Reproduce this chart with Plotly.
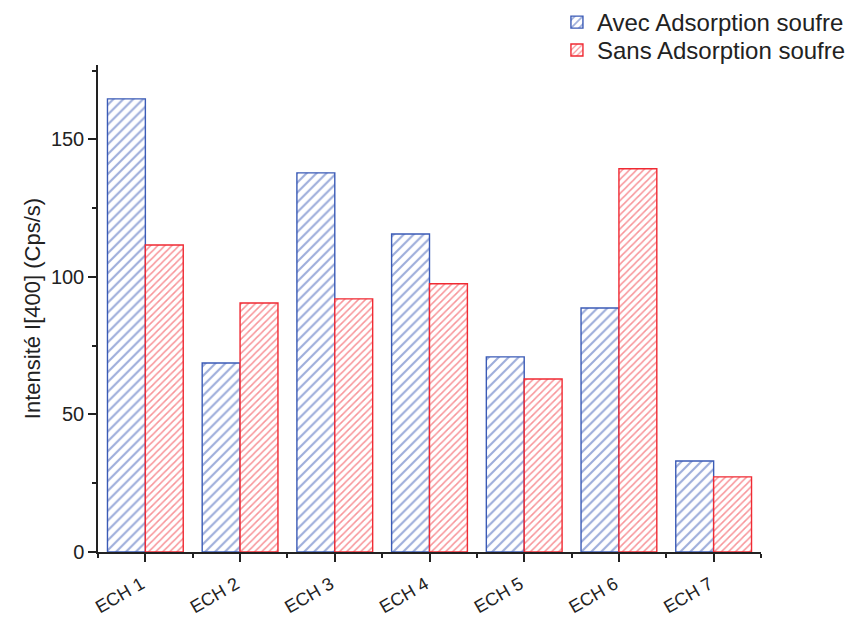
import plotly.graph_objects as go

categories = ["ECH 1", "ECH 2", "ECH 3", "ECH 4", "ECH 5", "ECH 6", "ECH 7"]
avec_adsorption = [164.7, 68.7, 137.8, 115.6, 70.9, 88.7, 33.1]
sans_adsorption = [111.6, 90.5, 92.0, 97.5, 62.9, 139.3, 27.3]

series_names = ["Avec Adsorption soufre", "Sans Adsorption soufre"]
series_colors = ["#3b5bb6", "#f02a33"]
hatch_sizes = [7, 5]
legend_ids = ["legend", "legend2"]

positions = list(range(len(categories)))

fig = go.Figure()
for name, values, color, hsize, lg in zip(series_names, [avec_adsorption, sans_adsorption],
                                          series_colors, hatch_sizes, legend_ids):
    fig.add_trace(go.Bar(
        x=positions,
        y=values,
        name=name,
        legend=lg,
        marker=dict(
            color="white",
            line=dict(color=color, width=1.4),
            pattern=dict(shape="/", fgcolor=color, bgcolor="white",
                         size=hsize, solidity=0.3, fillmode="overlay"),
        ),
    ))

font_family = "Liberation Sans, Arial, sans-serif"
ink = "#222222"


def legend_box(y_top):
    return dict(
        xref="container", yref="container",
        x=0.656, y=y_top, xanchor="left", yanchor="top",
        font=dict(size=24, family=font_family, color=ink),
        bgcolor="rgba(0,0,0,0)",
        itemwidth=30,
    )


fig.update_layout(
    width=849, height=619,
    margin=dict(l=98, r=88, t=65, b=67, autoexpand=False),
    paper_bgcolor="white",
    plot_bgcolor="white",
    barmode="group",
    bargap=0.2,
    bargroupgap=0,
    font=dict(family=font_family, color=ink),
    showlegend=True,
    legend=legend_box(1.004),
    legend2=legend_box(0.955),
    xaxis=dict(
        range=[-0.5, 6.5],
        tickmode="array",
        tickvals=positions,
        ticktext=categories,
        tickangle=-30,
        tickfont=dict(size=18, family=font_family, color=ink),
        ticklabelstandoff=5,
        ticklabelshift=-4,
        showline=True, linecolor=ink, linewidth=1.5,
        ticks="outside", ticklen=8, tickwidth=1.5, tickcolor=ink,
        minor=dict(tickmode="array", tickvals=[p + 0.5 for p in positions[:-1]] + [-0.5, 6.5],
                   ticks="outside", ticklen=4, tickwidth=1.5, tickcolor=ink),
        showgrid=False, zeroline=False,
    ),
    yaxis=dict(
        range=[0, 177],
        tickmode="array",
        tickvals=[0, 50, 100, 150],
        tickfont=dict(size=20, family=font_family, color=ink),
        title=dict(text="Intensité I[400] (Cps/s)",
                   font=dict(size=22, family=font_family, color=ink),
                   standoff=4),
        showline=True, linecolor=ink, linewidth=1.5,
        ticks="outside", ticklen=8, tickwidth=1.5, tickcolor=ink,
        minor=dict(tickmode="array", tickvals=[25, 75, 125, 175],
                   ticks="outside", ticklen=4, tickwidth=1.5, tickcolor=ink),
        showgrid=False, zeroline=False,
    ),
)

fig.write_html("out.html")
